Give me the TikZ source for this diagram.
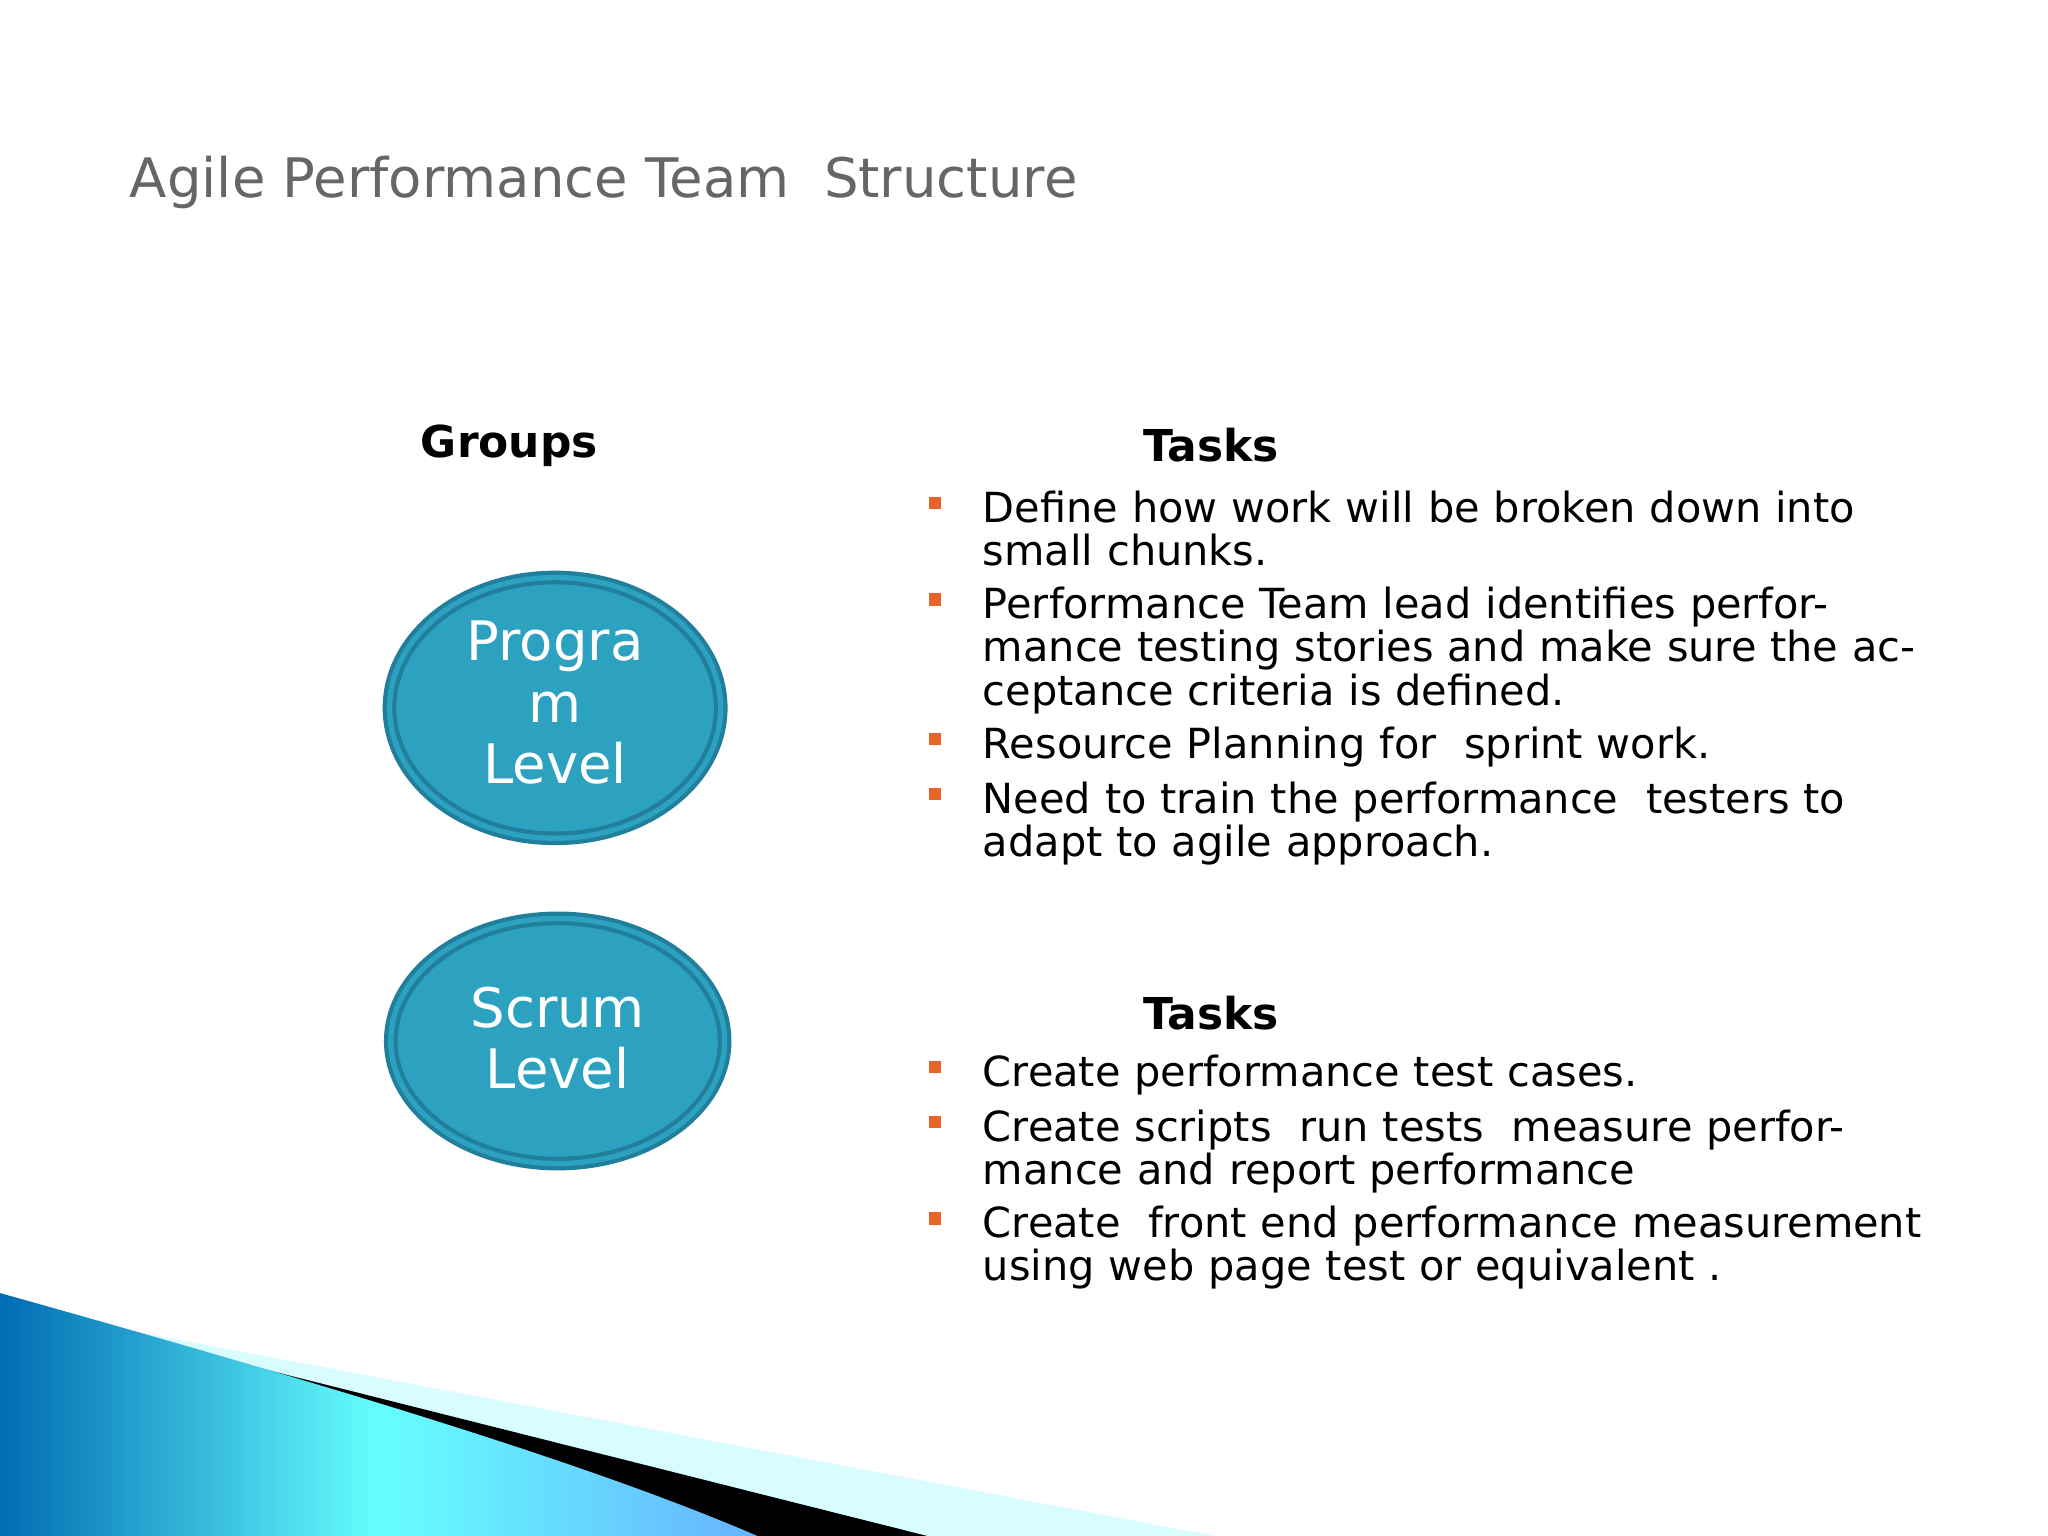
\documentclass[tikz,border=0pt]{standalone}
\usepackage{fontspec}
\setmainfont{DejaVu Sans}
\usetikzlibrary{shapes.geometric}
\definecolor{ellfill}{HTML}{2CA1C0}
\definecolor{elldraw}{HTML}{217F9C}
\definecolor{bul}{HTML}{E8642A}
\begin{document}
\begin{tikzpicture}[x=0.01306cm,y=-0.01306cm,
  grp/.style={ellipse,fill=ellfill,draw=elldraw,line width=1.2pt,double=ellfill,double distance=1.5pt,text=white,font=\fontsize{15.5}{17.5}\selectfont,align=center,inner sep=0pt},
  head/.style={font=\fontsize{12.5}{14}\selectfont\bfseries},
  item/.style={anchor=north west,align=left,text width=9.6cm,font=\fontsize{11.8}{12.3}\selectfont,inner sep=0pt},
  bullet/.style={fill=bul,minimum size=3.5pt,inner sep=0pt}]
\useasboundingbox (0,0) rectangle (1568,1176);
\fill[white] (0,0) rectangle (1568,1176);
\node[anchor=west,text=gray!80!black,font=\fontsize{15.5}{18}\selectfont] (title) at (90,140) {Agile Performance Team\ \ Structure};
\node[head] (groups) at (390,341) {Groups};
\node[head] (tasks1) at (927,341) {Tasks};
\node[head] (tasks2) at (927,776) {Tasks};
\node[grp,minimum width=254pt*0.371,minimum height=200pt*0.371] (prog) at (425,542) {};
\node[text=white,font=\fontsize{15.5}{17.5}\selectfont,align=center] (progt) at (425,538) {Progra\\m\\Level};
\node[grp,minimum width=256pt*0.371,minimum height=188pt*0.371] (scrum) at (427,797) {};
\node[text=white,font=\fontsize{15.5}{17.5}\selectfont,align=center] (scrumt) at (427,795) {Scrum\\Level};
\foreach \n/\y/\t in {a/375/{Define how work will be broken down into small chunks.},
  b/449/{Performance Team lead identifies performance testing stories and make sure the acceptance criteria is defined.},
  c/556/{Resource Planning for\ \ sprint work.},
  d/598/{Need to train the performance\ \ testers to adapt to agile approach.},
  e/807/{Create performance test cases.},
  f/849/{Create scripts\ \ run tests\ \ measure performance and report performance},
  g/923/{Create\ \ front end performance measurement using web page test or equivalent .}}{
  \node[item] (\n) at (752,\y) {\t};
  \node[bullet] (b\n) at (716,\y+10) {};
}
% bottom decoration
\fill[blue!8!cyan!15] (0,990) -- (80,1015) -- (930,1176) -- (0,1176) -- cycle;
\fill[black] (0,1000) -- (90,1020) -- (710,1176) -- (0,1176) -- cycle;
\shade[left color=cyan!60!blue!70!black,right color=cyan!50!blue!60,middle color=cyan!60] (0,990) .. controls (250,1060) and (450,1120) .. (580,1176) -- (0,1176) -- cycle;
\end{tikzpicture}
\end{document}
